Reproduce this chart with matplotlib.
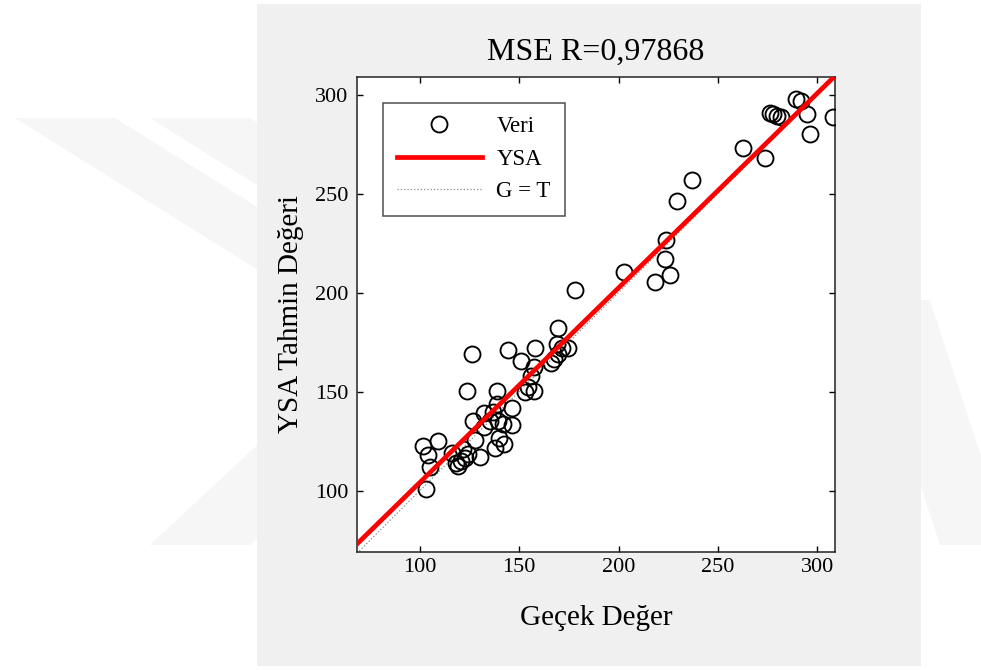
import matplotlib
matplotlib.use("Agg")
import matplotlib.pyplot as plt
from matplotlib.patches import Rectangle, Polygon

plt.rcParams['font.family'] = ['Liberation Serif', 'DejaVu Serif']

# Veri: gerçek (x) ve YSA tahmini (y)
gercek = [289.3, 292.0, 294.8, 296.6, 308.0, 276.1, 278.0, 279.8, 281.6,
          262.5, 273.9, 236.8, 229.5, 223.9, 223.2, 226.1, 218.2, 202.5, 178.0,
          169.3, 168.9, 171.6, 174.3, 165.9, 167.7, 169.3, 158.0, 150.7, 144.3,
          126.1, 157.5, 156.1, 154.5, 157.5, 153.0, 123.9, 138.6, 138.6, 146.1,
          137.0, 132.5, 126.8, 135.2, 139.3, 146.1, 132.5, 142.0, 139.8, 127.7,
          138.0, 142.5, 130.2, 101.6, 109.1, 104.1, 105.2, 103.0, 115.9, 121.6,
          118.2, 120.5, 122.7, 124.3, 119.3]
tahmin = [297.6, 296.8, 290.0, 280.3, 288.5, 290.7, 290.0, 289.2, 288.5,
          273.0, 268.0, 256.8, 246.4, 226.3, 216.8, 208.6, 205.4, 210.6, 201.3,
          182.1, 174.1, 171.9, 171.9, 164.4, 166.5, 168.7, 171.9, 165.4, 170.8,
          168.7, 162.2, 157.9, 152.5, 150.3, 149.7, 150.1, 150.1, 143.8, 141.7,
          139.5, 138.9, 135.2, 135.2, 135.2, 133.0, 132.0, 133.7, 126.6, 125.5,
          121.6, 123.3, 116.8, 122.7, 124.8, 117.9, 111.9, 100.6, 119.0, 121.2,
          114.0, 115.1, 116.4, 118.6, 112.5]

# YSA doğrusu ve G = T doğrusu
ysa_x = [68.3, 309.0]
ysa_y = [73.0, 309.4]
gt_x = [68.3, 309.0]
gt_y = [68.3, 309.0]

ticks = [100, 150, 200, 250, 300]

fig = plt.figure(figsize=(9.81, 6.70), dpi=100)
fig.patch.set_facecolor('white')

# arka plandaki soluk filigran
wm = '#f6f6f6'
for p in [[(15, 118), (115, 118), (470, 340), (250, 545), (150, 545), (370, 340)],
          [(150, 118), (250, 118), (605, 340), (385, 545), (285, 545), (505, 340)],
          [(860, 300), (930, 300), (1010, 545), (940, 545)]]:
    fig.patches.append(Polygon([(x / 981, 1 - y / 670) for x, y in p],
                               closed=True, transform=fig.transFigure,
                               facecolor=wm, edgecolor='none', zorder=-2))
fig.patches.append(Rectangle((257 / 981, 4 / 670), 664 / 981, 662 / 670,
                             transform=fig.transFigure, facecolor='#f0f0f0',
                             edgecolor='none', zorder=-1))

ax = fig.add_axes([357 / 981, 1 - 551.5 / 670, 478 / 981, 474.8 / 670])
ax.set_facecolor('white')

ax.plot(gercek, tahmin, 'o', ms=11.5, mfc='none', mec='black', mew=1.35,
        label='Veri', zorder=3)
ax.plot(ysa_x, ysa_y, '-', color='red', lw=3.4, label='YSA', zorder=4)
ax.plot(gt_x, gt_y, ':', color='#8a8a8a', lw=0.9, label='G = T', zorder=2)

ax.set_xlim(68.3, 309)
ax.set_ylim(69.2, 309)
ax.set_xticks(ticks)
ax.set_yticks(ticks)
ax.tick_params(direction='in', top=True, right=True, length=4.5, width=1,
               labelsize=16)
ax.tick_params(axis='x', pad=5)
ax.tick_params(axis='y', pad=6)
for s in ax.spines.values():
    s.set_linewidth(1.1)
    s.set_color('#222222')

ax.set_title('MSE R=0,97868', fontsize=23, pad=12)
ax.set_xlabel('Geçek Değer', fontsize=21, labelpad=20)
ax.set_ylabel('YSA Tahmin Değeri', fontsize=21, labelpad=8)

leg = ax.legend(loc='upper left', bbox_to_anchor=(26 / 478, 1 - 26 / 474.8),
                fontsize=16.5, frameon=True, fancybox=False, numpoints=1,
                handlelength=3.7, borderaxespad=0, labelspacing=0.5,
                borderpad=0.6, handletextpad=0.65)
leg.get_frame().set_edgecolor('#222222')
leg.get_frame().set_linewidth(1.1)

fig.savefig('out.png', dpi=100, facecolor='white')
